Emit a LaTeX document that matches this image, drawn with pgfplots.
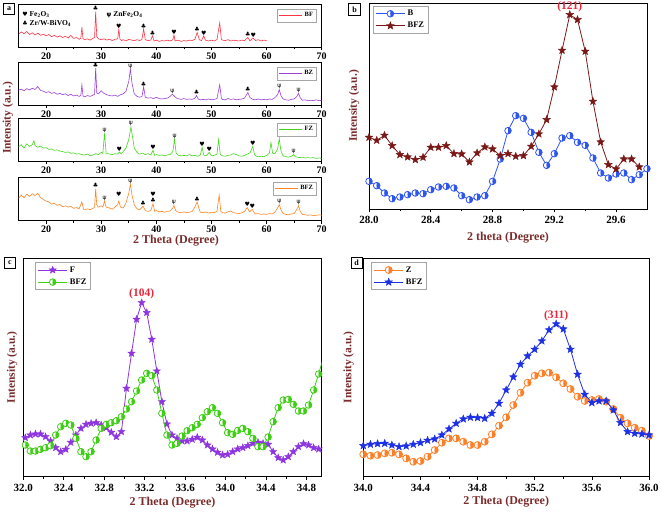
\documentclass[border=0pt]{standalone}
\usepackage{pgfplots}
\pgfplotsset{compat=1.18}
\usepackage{fontspec}
\setmainfont{Liberation Serif}
\newfontfamily\symf{DejaVu Sans}
\definecolor{lab}{HTML}{7B2C2C}
\definecolor{pk}{HTML}{E8283C}
\definecolor{cBF}{HTML}{FF3344}
\definecolor{cBZ}{HTML}{9B3FD9}
\definecolor{cFZ}{HTML}{44D61C}
\definecolor{cBFZ}{HTML}{FF8424}
\definecolor{bblue}{HTML}{2F55F0}
\definecolor{maroon}{HTML}{7A1818}
\definecolor{fpurple}{HTML}{8E35E0}
\definecolor{cgreen}{HTML}{3ECF14}
\definecolor{zor}{HTML}{FF7F27}
\definecolor{dblue}{HTML}{1E30E6}
\pgfdeclareplotmark{fstar}{%
 \pgfpathmoveto{\pgfpointpolar{90}{\pgfplotmarksize}}%
 \pgfpathlineto{\pgfpointpolar{126}{0.42\pgfplotmarksize}}%
 \pgfpathlineto{\pgfpointpolar{162}{\pgfplotmarksize}}%
 \pgfpathlineto{\pgfpointpolar{198}{0.42\pgfplotmarksize}}%
 \pgfpathlineto{\pgfpointpolar{234}{\pgfplotmarksize}}%
 \pgfpathlineto{\pgfpointpolar{270}{0.42\pgfplotmarksize}}%
 \pgfpathlineto{\pgfpointpolar{306}{\pgfplotmarksize}}%
 \pgfpathlineto{\pgfpointpolar{342}{0.42\pgfplotmarksize}}%
 \pgfpathlineto{\pgfpointpolar{18}{\pgfplotmarksize}}%
 \pgfpathlineto{\pgfpointpolar{54}{0.42\pgfplotmarksize}}%
 \pgfpathclose\pgfusepathqfillstroke}
\newcommand{\hrt}{{\symf\fontsize{6}{6}\selectfont ♥}}
\newcommand{\clb}{{\symf\fontsize{6}{6}\selectfont ♣}}
\newcommand{\psy}{{\symf\fontsize{6}{6}\selectfont ψ}}
\newcommand{\ann}[3]{\node[anchor=south,inner sep=0.6pt] at (axis cs:#1,#2) {#3};}
\pgfplotsset{
 common/.style={scale only axis, ytick=\empty, xtick pos=left, tick align=outside,
   major tick length=3.5pt, minor tick length=2.5pt, tick style={black, line width=0.7pt},
   axis line style={black, line width=0.9pt}, /pgf/number format/assume math mode=true,
   clip mode=individual, legend cell align=left},
 pa/.style={common, width=303.2pt, height=43pt, xmin=15, xmax=70, ymin=0, ymax=100,
   xtick={20,30,40,50,60,70}, minor xtick={25,35,45,55,65},
   xticklabel style={font=\bfseries\fontsize{10}{10}\selectfont, yshift=1.5pt},
   legend style={at={(1,1)}, xshift=-5pt, yshift=-5pt, anchor=north east, draw=gray!70,
     font=\bfseries\fontsize{6.5}{7}\selectfont, inner sep=1.5pt},
   legend image code/.code={\draw[##1, line width=1pt] (0cm,0cm) -- (0.8cm,0cm);}},
 pbig/.style={common, minor x tick num=1,
   xticklabel style={font=\bfseries\fontsize{11}{11}\selectfont, /pgf/number format/.cd, fixed, fixed zerofill, precision=1},
   xlabel style={font=\bfseries\fontsize{12}{12}\selectfont, text=lab, anchor=center},
   ylabel style={font=\bfseries\fontsize{11.5}{12}\selectfont, text=lab, anchor=south},
   legend style={at={(0,1)}, anchor=north west, draw=gray!70,
     font=\bfseries\fontsize{8.5}{9}\selectfont, inner sep=2pt, row sep=1pt},
   legend image code/.code={\draw[mark repeat=2, mark phase=2, ##1] plot coordinates {(0cm,0cm) (0.52cm,0cm) (1.04cm,0cm)};}}
}
\begin{document}
\begin{tikzpicture}
\useasboundingbox (0pt,0pt) rectangle (661pt,512pt);
% ---------------- panel a: BF
\begin{axis}[pa, at={(18.5pt,465pt)}, anchor=south west]
\addplot[cBF, line width=0.6pt] coordinates {(15,30)(15.5,35)(16,31)(16.5,36)(17,29)(17.5,33)(18,28)(18.5,32)(19,27)(19.5,30)(20,26)(20.5,29)(21,24)(21.5,27)(22,23)(22.5,26)(23,22)(23.5,25)(24,21)(24.5,27)(25,20)(25.5,22)(26,18)(26.3,20)(26.5,46)(26.7,19)(27,17)(27.5,19)(28,16)(28.5,20)(28.8,22)(29,82)(29.2,24)(29.5,19)(30,17)(30.5,19)(31,16)(31.5,18)(32,15)(32.5,18)(33,19)(33.2,42)(33.4,18)(33.7,15)(34,17)(34.5,14)(35,18)(35.5,16)(36,15)(36.5,17)(37,15)(37.4,18)(37.7,42)(38,17)(38.5,15)(39,16)(39.3,26)(39.6,14)(40,16)(40.5,13)(41,15)(41.5,14)(42,16)(42.5,14)(43,17)(43.2,28)(43.4,14)(44,16)(44.5,13)(45,15)(45.5,14)(46,16)(46.5,15)(47,18)(47.4,34)(47.8,17)(48.2,15)(48.6,26)(48.9,16)(49.5,14)(50,16)(50.5,14)(51,17)(51.5,56)(51.8,18)(52,16)(52.5,15)(53,17)(53.5,14)(54,16)(54.5,15)(55,14)(55.5,16)(56,15)(56.6,22)(57,14)(57.5,21)(58,15)(58.5,17)(59,14)(59.5,16)(60,15)};
\addlegendentry{BF}
\node[anchor=west, inner sep=0pt, font=\bfseries\fontsize{7.5}{8}\selectfont] at (rel axis cs:0.012,0.76) {\hrt\ Fe\textsubscript{2}O\textsubscript{3}};
\node[anchor=west, inner sep=0pt, font=\bfseries\fontsize{7.5}{8}\selectfont] at (rel axis cs:0.012,0.55) {\clb\ Zr/W-BiVO\textsubscript{4}};
\node[anchor=west, inner sep=0pt, font=\bfseries\fontsize{7.5}{8}\selectfont] at (rel axis cs:0.29,0.76) {\psy\ ZnFe\textsubscript{2}O\textsubscript{4}};
\ann{29}{82}{\clb}\ann{33.2}{42}{\hrt}\ann{37.7}{42}{\clb}\ann{39.3}{26}{\clb}\ann{43.2}{28}{\hrt}
\ann{47.4}{34}{\clb}\ann{48.6}{26}{\hrt}\ann{56.6}{22}{\clb}\ann{57.6}{21}{\hrt}
\end{axis}
% ---------------- panel a: BZ
\begin{axis}[pa, at={(18.5pt,407pt)}, anchor=south west]
\addplot[cBZ, line width=0.6pt] coordinates {(15,34)(15.5,37)(16,33)(16.5,38)(17,35)(17.5,39)(18,36)(18.5,43)(19,34)(19.5,32)(20,29)(20.5,31)(21,27)(21.5,29)(22,25)(22.5,27)(23,24)(23.5,26)(24,22)(24.5,25)(25,21)(25.5,23)(26,20)(26.3,22)(26.5,47)(26.7,21)(27,19)(27.5,22)(28,20)(28.5,23)(28.8,25)(29,86)(29.2,28)(29.5,26)(30,33)(30.5,27)(31,24)(31.5,22)(32,21)(32.5,23)(33,20)(33.5,24)(34,26)(34.5,32)(35,55)(35.3,83)(35.6,50)(36,26)(36.5,20)(37,18)(37.4,20)(37.7,42)(38,18)(38.5,16)(39,17)(39.5,15)(40,18)(40.5,15)(41,14)(41.5,15)(42,16)(42.5,20)(42.9,25)(43.3,20)(43.8,15)(44.5,13)(45,15)(45.5,13)(46,14)(46.5,13)(47,16)(47.3,22)(47.6,14)(48,12)(48.5,13)(49,12)(49.5,14)(50,12)(50.5,13)(51,15)(51.5,47)(51.8,16)(52,13)(52.5,12)(53,15)(53.5,13)(54,14)(54.5,12)(55,13)(55.5,14)(56,16)(56.6,29)(57,17)(57.5,13)(58,12)(58.5,14)(59,12)(59.5,13)(60,12)(60.5,14)(61,13)(61.5,17)(62,24)(62.3,36)(62.6,22)(63,14)(63.5,12)(64,11)(64.5,13)(65,14)(65.5,20)(65.8,27)(66.1,17)(66.5,11)(67,12)(67.5,10)(68,11)(68.5,10)(69,12)(69.5,10)(70,11)};
\addlegendentry{BZ}
\ann{29}{86}{\clb}\ann{35.3}{83}{\psy}\ann{37.7}{42}{\clb}\ann{42.9}{25}{\psy}\ann{47.3}{22}{\clb}
\ann{56.6}{29}{\clb}\ann{62.3}{36}{\psy}\ann{65.8}{27}{\psy}
\end{axis}
% ---------------- panel a: FZ
\begin{axis}[pa, at={(18.5pt,351pt)}, anchor=south west]
\addplot[cFZ, line width=0.6pt] coordinates {(15,33)(15.5,38)(16,30)(16.5,40)(17,34)(17.5,38)(17.8,47)(18,36)(18.5,32)(19,35)(19.5,30)(20,31)(20.5,27)(21,28)(21.5,25)(22,26)(22.5,23)(23,22)(23.5,20)(24,21)(24.5,18)(25,19)(25.5,16)(26,17)(26.5,15)(27,14)(27.5,16)(28,12)(28.5,14)(29,17)(29.5,15)(30,20)(30.3,18)(30.6,64)(30.9,18)(31.5,16)(32,15)(32.5,17)(33,16)(33.3,21)(33.6,17)(34,22)(34.5,30)(35,50)(35.4,79)(35.7,55)(36,30)(36.5,20)(37,16)(37.5,18)(38,15)(38.5,17)(39,14)(39.4,25)(39.7,13)(40,15)(40.5,13)(41,14)(41.5,12)(42,14)(42.5,15)(43,22)(43.3,50)(43.6,18)(44,13)(44.5,12)(45,13)(45.5,12)(46,15)(46.5,12)(47,13)(47.5,11)(48,14)(48.3,32)(48.6,14)(49,12)(49.6,20)(50,12)(50.5,13)(51,16)(51.3,50)(51.6,15)(52,12)(52.5,11)(53,13)(53.5,14)(54,17)(54.5,15)(55,12)(55.5,11)(56,13)(56.5,16)(57,19)(57.5,34)(57.8,16)(58,12)(58.5,10)(59,11)(59.5,10)(60,13)(60.5,18)(60.8,43)(61.1,18)(61.5,17)(62,28)(62.3,52)(62.6,24)(63,12)(63.5,10)(64,9)(64.5,11)(64.9,15)(65.2,10)(65.5,9)(66,8)(66.5,9)(67,7)(67.5,8)(68,7)(68.5,8)(69,6)(69.5,7)(70,6)};
\addlegendentry{FZ}
\ann{30.6}{64}{\psy}\ann{33.3}{21}{\hrt}\ann{35.4}{79}{\psy}\ann{39.4}{25}{\hrt}\ann{43.3}{50}{\psy}
\ann{48.3}{32}{\hrt}\ann{49.6}{20}{\hrt}\ann{57.5}{34}{\hrt}\ann{62.3}{52}{\psy}\ann{64.9}{15}{\psy}
\end{axis}
% ---------------- panel a: BFZ
\begin{axis}[pa, at={(18.5pt,292pt)}, anchor=south west]
\addplot[cBFZ, line width=0.6pt] coordinates {(15,50)(15.5,58)(16,52)(16.5,60)(17,55)(17.5,61)(18,57)(18.5,62)(19,52)(19.5,48)(20,44)(20.5,42)(21,37)(21.5,39)(22,34)(22.5,36)(23,31)(23.5,33)(24,30)(24.5,32)(25,27)(25.5,29)(26,26)(26.5,42)(26.8,25)(27,24)(27.5,26)(28,24)(28.5,27)(28.8,30)(29,73)(29.2,35)(29.5,30)(30,33)(30.3,30)(30.6,44)(30.9,30)(31.5,28)(32,25)(32.5,30)(33,36)(33.2,44)(33.5,30)(34,28)(34.5,40)(35,62)(35.3,83)(35.6,58)(36,35)(36.5,26)(37,24)(37.6,32)(38,22)(38.5,20)(39,22)(39.4,38)(39.7,20)(40,22)(40.5,19)(41,20)(41.5,18)(42,20)(42.5,21)(43,28)(43.2,34)(43.5,22)(44,18)(44.5,17)(45,19)(45.5,17)(46,18)(46.5,20)(47,30)(47.4,42)(47.8,24)(48,18)(48.5,17)(49,19)(49.5,16)(50,18)(50.5,17)(51,20)(51.4,58)(51.7,20)(52,17)(52.5,16)(53,19)(53.5,21)(54,17)(54.5,16)(55,15)(55.5,17)(56,20)(56.5,29)(56.9,19)(57.4,25)(57.8,16)(58,14)(58.5,15)(59,13)(59.5,14)(60,13)(60.5,15)(61,14)(61.5,18)(62,28)(62.3,36)(62.6,24)(63,15)(63.5,13)(64,12)(64.5,14)(65,15)(65.5,25)(65.8,33)(66.1,20)(66.5,13)(67,12)(67.5,11)(68,12)(68.5,10)(69,11)(69.5,12)(70,11)};
\addlegendentry{BFZ}
\ann{29}{73}{\clb}\ann{30.6}{44}{\psy}\node[anchor=south,inner sep=0.6pt] at (axis cs:33.2,52) {\hrt};
\ann{35.3}{83}{\psy}\ann{37.6}{32}{\clb}\ann{39.4}{38}{\clb}
\node[anchor=south,inner sep=0.6pt,yshift=6.5pt] at (axis cs:39.4,38) {\hrt};
\ann{43.2}{34}{\psy}\ann{47.4}{42}{\clb}\ann{56.5}{29}{\hrt}\ann{57.4}{25}{\hrt}\ann{62.3}{36}{\psy}\ann{65.8}{33}{\psy}
\end{axis}
\node[rotate=90, font=\bfseries\fontsize{11.5}{12}\selectfont, text=lab] at (8pt,394pt) {Intensity (a.u.)};
\node[font=\bfseries\fontsize{12}{12}\selectfont, text=lab] at (176pt,271pt) {2 Theta (Degree)};
% ---------------- panel b
\begin{axis}[pbig, at={(369pt,303pt)}, anchor=south west, width=278pt, height=206pt,
  xmin=28, xmax=29.8, ymin=0, ymax=618, xtick={28,28.4,28.8,29.2,29.6},
  xlabel={2 theta (Degree)}, ylabel={Intensity (a.u.)},
  xlabel style={at={(0.5,-0.14)}}, ylabel style={at={(-0.022,0.5)}},
  legend style={xshift=4pt, yshift=-3pt}]
\addplot[bblue, line width=0.8pt, mark=halfcircle*, mark size=3.3pt, mark options={rotate=90, fill=white, mark color=bblue, draw=bblue}] coordinates {(28.00,83)(28.05,70)(28.10,48)(28.15,31)(28.20,36)(28.25,43)(28.30,48)(28.35,46)(28.40,58)(28.45,66)(28.50,68)(28.55,63)(28.60,40)(28.65,28)(28.70,36)(28.75,40)(28.80,83)(28.85,150)(28.90,235)(28.95,280)(29.00,272)(29.05,230)(29.10,170)(29.15,131)(29.20,166)(29.25,213)(29.30,220)(29.35,200)(29.40,191)(29.45,153)(29.50,108)(29.55,93)(29.60,105)(29.65,108)(29.70,88)(29.75,103)(29.80,121)};
\addlegendentry{B}
\addplot[maroon, line width=0.8pt, mark=fstar, mark size=4pt, mark options={fill=maroon, draw=maroon, line width=0.4pt}] coordinates {(28.00,215)(28.05,206)(28.10,221)(28.15,190)(28.20,163)(28.25,156)(28.30,148)(28.35,155)(28.40,185)(28.45,185)(28.50,190)(28.55,166)(28.60,165)(28.65,141)(28.70,168)(28.75,186)(28.80,180)(28.85,160)(28.90,166)(28.95,158)(29.00,160)(29.05,188)(29.10,225)(29.15,268)(29.20,366)(29.25,476)(29.30,583)(29.35,568)(29.40,473)(29.45,323)(29.50,201)(29.55,133)(29.60,120)(29.65,150)(29.70,150)(29.75,126)};
\addlegendentry{BFZ}
\node[anchor=south, text=pk, font=\bfseries\fontsize{11.5}{12}\selectfont, inner sep=1pt] at (axis cs:29.3,587) {(121)};
\end{axis}
% ---------------- panel c
\begin{axis}[pbig, at={(23.3pt,35.3pt)}, anchor=south west, width=298.4pt, height=218.4pt,
  xmin=32, xmax=34.95, ymin=0, ymax=655, xtick={32,32.4,32.8,33.2,33.6,34,34.4,34.8},
  xlabel={2 Theta (Degree)}, ylabel={Intensity (a.u.)},
  xlabel style={at={(0.5,-0.12)}}, ylabel style={at={(-0.008,0.5)}},
  legend style={xshift=12pt, yshift=-4pt}]
\addplot[fpurple, line width=0.8pt, mark=fstar, mark size=3.8pt, mark options={fill=fpurple, draw=fpurple, line width=0.4pt}] coordinates {(32.02,117)(32.07,125)(32.12,128)(32.17,128)(32.22,120)(32.27,107)(32.32,87)(32.37,75)(32.42,82)(32.47,103)(32.52,125)(32.57,145)(32.62,157)(32.67,160)(32.72,162)(32.77,155)(32.82,147)(32.87,133)(32.92,120)(32.97,135)(33.02,265)(33.07,370)(33.12,472)(33.17,522)(33.22,492)(33.27,412)(33.32,317)(33.37,225)(33.42,158)(33.47,125)(33.52,115)(33.57,107)(33.62,107)(33.67,112)(33.72,118)(33.77,110)(33.82,95)(33.87,83)(33.92,73)(33.97,65)(34.02,67)(34.07,75)(34.12,83)(34.17,87)(34.22,93)(34.27,100)(34.32,103)(34.37,100)(34.42,97)(34.47,75)(34.52,57)(34.57,50)(34.62,60)(34.67,75)(34.72,90)(34.77,99)(34.82,95)(34.87,87)(34.92,83)(34.97,70)};
\addlegendentry{F}
\addplot[cgreen, line width=0.8pt, mark=halfcircle*, mark size=3.3pt, mark options={rotate=90, fill=white, mark color=cgreen, draw=cgreen}] coordinates {(32.02,95)(32.07,77)(32.12,77)(32.17,82)(32.22,87)(32.27,93)(32.32,125)(32.37,150)(32.42,160)(32.47,155)(32.52,115)(32.57,75)(32.62,60)(32.67,75)(32.72,110)(32.77,145)(32.82,157)(32.87,162)(32.92,168)(32.97,180)(33.02,203)(33.07,225)(33.12,257)(33.17,290)(33.22,310)(33.27,303)(33.32,260)(33.37,190)(33.42,125)(33.47,95)(33.52,100)(33.57,122)(33.62,138)(33.67,147)(33.72,157)(33.77,177)(33.82,195)(33.87,207)(33.92,190)(33.97,162)(34.02,132)(34.07,127)(34.12,139)(34.17,145)(34.22,135)(34.27,115)(34.32,90)(34.37,90)(34.42,119)(34.47,165)(34.52,207)(34.57,230)(34.62,232)(34.67,217)(34.72,197)(34.77,197)(34.82,215)(34.87,260)(34.92,308)(34.97,362)};
\addlegendentry{BFZ}
\node[anchor=south, text=pk, font=\bfseries\fontsize{11.5}{12}\selectfont, inner sep=1pt] at (axis cs:33.17,528) {(104)};
\end{axis}
% ---------------- panel d
\begin{axis}[pbig, at={(363.3pt,35.3pt)}, anchor=south west, width=285.7pt, height=218.4pt,
  xmin=34, xmax=36, ymin=0, ymax=655, xtick={34,34.4,34.8,35.2,35.6,36},
  xlabel={2 Theta (Degree)}, ylabel={Intensity (a.u.)},
  xlabel style={at={(0.5,-0.115)}}, ylabel style={at={(-0.021,0.5)}},
  legend style={xshift=8pt, yshift=-4pt}]
\addplot[zor, line width=0.8pt, mark=halfcircle*, mark size=3.5pt, mark options={rotate=90, fill=white, mark color=zor, draw=zor}] coordinates {(34.00,67)(34.05,63)(34.10,65)(34.15,70)(34.20,72)(34.25,67)(34.30,55)(34.35,45)(34.40,47)(34.45,60)(34.50,80)(34.55,102)(34.60,115)(34.65,115)(34.70,105)(34.75,95)(34.80,95)(34.85,105)(34.90,127)(34.95,153)(35.00,178)(35.05,215)(35.10,252)(35.15,282)(35.20,303)(35.25,310)(35.30,312)(35.35,298)(35.40,280)(35.45,263)(35.50,240)(35.55,227)(35.60,230)(35.65,233)(35.70,225)(35.75,203)(35.80,177)(35.85,160)(35.90,147)(35.95,138)(36.00,122)};
\addlegendentry{Z}
\addplot[dblue, line width=0.8pt, mark=fstar, mark size=4pt, mark options={fill=dblue, draw=dblue, line width=0.4pt}] coordinates {(34.00,93)(34.05,97)(34.10,99)(34.15,100)(34.20,95)(34.25,90)(34.30,92)(34.35,97)(34.40,102)(34.45,109)(34.50,113)(34.55,125)(34.60,143)(34.65,160)(34.70,173)(34.75,178)(34.80,177)(34.85,175)(34.90,190)(34.95,220)(35.00,260)(35.05,299)(35.10,337)(35.15,362)(35.20,382)(35.25,407)(35.30,440)(35.35,458)(35.40,443)(35.45,382)(35.50,307)(35.55,247)(35.60,222)(35.65,227)(35.70,227)(35.75,200)(35.80,162)(35.85,135)(35.90,130)(35.95,128)(36.00,125)};
\addlegendentry{BFZ}
\node[anchor=south, text=pk, font=\bfseries\fontsize{11.5}{12}\selectfont, inner sep=1pt] at (axis cs:35.35,465) {(311)};
\end{axis}
% ---------------- panel letters
\node[draw, line width=0.8pt, font=\bfseries\fontsize{8}{8}\selectfont, inner sep=1.5pt, minimum size=11pt] at (9pt,503pt) {a};
\node[draw, line width=0.8pt, font=\bfseries\fontsize{8}{8}\selectfont, inner sep=1.5pt, minimum size=12pt] at (354.5pt,502.5pt) {b};
\node[draw, line width=0.8pt, font=\bfseries\fontsize{8}{8}\selectfont, inner sep=1.5pt, minimum size=11pt] at (10pt,249pt) {c};
\node[draw, line width=0.8pt, font=\bfseries\fontsize{8}{8}\selectfont, inner sep=1.5pt, minimum size=11pt] at (356.5pt,249.5pt) {d};
\end{tikzpicture}
\end{document}
